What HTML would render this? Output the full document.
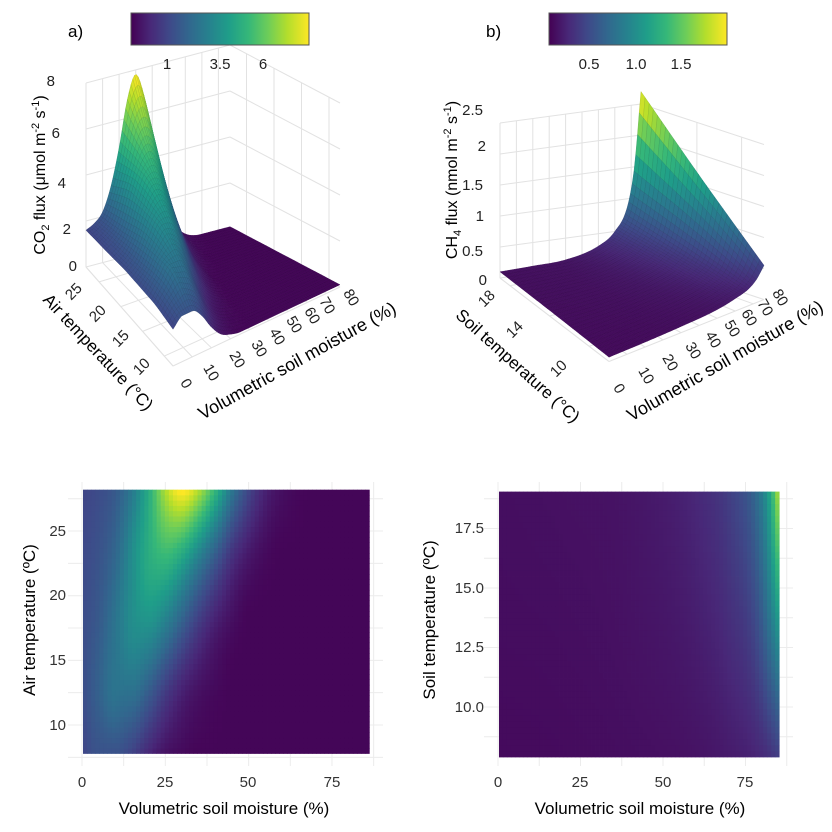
<!DOCTYPE html>
<html><head><meta charset="utf-8">
<style>
html,body{margin:0;padding:0;background:#fff;}
svg{display:block;font-family:"Liberation Sans",sans-serif;}
</style></head>
<body>
<svg id="fig" width="832" height="832" viewBox="0 0 832 832" xmlns="http://www.w3.org/2000/svg">
<defs>
<linearGradient id="vir" x1="0" x2="1" y1="0" y2="0">
<stop offset="0" stop-color="#440154"/><stop offset="0.11" stop-color="#482878"/><stop offset="0.22" stop-color="#3e4a89"/><stop offset="0.33" stop-color="#31688e"/><stop offset="0.44" stop-color="#26828e"/><stop offset="0.55" stop-color="#1f9e89"/><stop offset="0.66" stop-color="#35b779"/><stop offset="0.77" stop-color="#6dcd59"/><stop offset="0.88" stop-color="#b4de2c"/><stop offset="1" stop-color="#fde725"/>
</linearGradient>
</defs>
<g id="g3dA"></g>
<g id="g3dB"></g>
<g id="ghA"></g>
<g id="ghB"></g>

<text x="68" y="37" font-size="17">a)</text>
<rect x="131" y="13" width="178" height="32" fill="url(#vir)" stroke="#555" stroke-width="1"/>
<g font-size="15" fill="#222" text-anchor="middle">
<text x="167" y="69">1</text><text x="220" y="69">3.5</text><text x="263" y="69">6</text></g>

<text x="486" y="37" font-size="17">b)</text>
<rect x="549" y="13" width="178" height="32" fill="url(#vir)" stroke="#555" stroke-width="1"/>
<g font-size="15" fill="#222" text-anchor="middle">
<text x="589" y="69">0.5</text><text x="636" y="69">1.0</text><text x="681" y="69">1.5</text></g>

<g font-size="15" fill="#222" text-anchor="end">
<text x="55" y="86">8</text><text x="60" y="138">6</text><text x="66" y="188">4</text><text x="71" y="234">2</text><text x="77" y="271">0</text></g>
<text transform="translate(45,175) rotate(-90)" font-size="16" text-anchor="middle">CO<tspan font-size="11" dy="4">2</tspan><tspan dy="-4"> flux (μmol m</tspan><tspan font-size="11" dy="-6">-2</tspan><tspan dy="6"> s</tspan><tspan font-size="11" dy="-6">-1</tspan><tspan dy="6">)</tspan></text>
<g font-size="15" fill="#222" text-anchor="middle">
<text transform="translate(77,295) rotate(-45)">25</text><text transform="translate(101,317) rotate(-45)">20</text><text transform="translate(124,342) rotate(-45)">15</text><text transform="translate(145,370) rotate(-45)">10</text></g>
<text transform="translate(94,356) rotate(47)" font-size="17" text-anchor="middle">Air temperature (°C)</text>
<g font-size="15" fill="#222" text-anchor="middle">
<text transform="translate(182,386) rotate(60)">0</text><text transform="translate(207,375) rotate(60)">10</text><text transform="translate(233,362) rotate(60)">20</text><text transform="translate(255,351) rotate(60)">30</text><text transform="translate(273,339) rotate(60)">40</text><text transform="translate(290,327) rotate(60)">50</text><text transform="translate(308,318) rotate(60)">60</text><text transform="translate(323,308) rotate(60)">70</text><text transform="translate(347,300) rotate(60)">80</text></g>
<text transform="translate(300,366) rotate(-29)" font-size="18" text-anchor="middle">Volumetric soil moisture (%)</text>

<g font-size="15" fill="#222" text-anchor="end">
<text x="483" y="115">2.5</text><text x="486" y="151">2</text><text x="483" y="190">1.5</text><text x="484" y="221">1</text><text x="483" y="256">0.5</text><text x="487" y="285">0</text></g>
<text transform="translate(457,180) rotate(-90)" font-size="16" text-anchor="middle">CH<tspan font-size="11" dy="4">4</tspan><tspan dy="-4"> flux (nmol m</tspan><tspan font-size="11" dy="-6">-2</tspan><tspan dy="6"> s</tspan><tspan font-size="11" dy="-6">-1</tspan><tspan dy="6">)</tspan></text>
<g font-size="15" fill="#222" text-anchor="middle">
<text transform="translate(490,302) rotate(-45)">18</text><text transform="translate(518,333) rotate(-45)">14</text><text transform="translate(562,372) rotate(-45)">10</text></g>
<text transform="translate(514,370) rotate(42)" font-size="17" text-anchor="middle">Soil temperature (°C)</text>
<g font-size="15" fill="#222" text-anchor="middle">
<text transform="translate(615,391) rotate(60)">0</text><text transform="translate(642,378) rotate(60)">10</text><text transform="translate(666,365) rotate(60)">20</text><text transform="translate(689,353) rotate(60)">30</text><text transform="translate(709,342) rotate(60)">40</text><text transform="translate(728,331) rotate(60)">50</text><text transform="translate(745,320) rotate(60)">60</text><text transform="translate(761,310) rotate(60)">70</text><text transform="translate(776,300) rotate(60)">80</text></g>
<text transform="translate(728,366) rotate(-30)" font-size="18" text-anchor="middle">Volumetric soil moisture (%)</text>

<g font-size="15" fill="#333" text-anchor="end">
<text x="66" y="536">25</text><text x="66" y="600">20</text><text x="66" y="665">15</text><text x="66" y="730">10</text></g>
<g font-size="15" fill="#333" text-anchor="middle">
<text x="82" y="787">0</text><text x="165" y="787">25</text><text x="248" y="787">50</text><text x="332" y="787">75</text></g>
<text x="224" y="814" font-size="17" text-anchor="middle">Volumetric soil moisture (%)</text>
<text transform="translate(35,620) rotate(-90)" font-size="17" text-anchor="middle">Air temperature (ºC)</text>

<g font-size="15" fill="#333" text-anchor="end">
<text x="484" y="533">17.5</text><text x="484" y="593">15.0</text><text x="484" y="652">12.5</text><text x="484" y="712">10.0</text></g>
<g font-size="15" fill="#333" text-anchor="middle">
<text x="498" y="787">0</text><text x="580" y="787">25</text><text x="663" y="787">50</text><text x="745" y="787">75</text></g>
<text x="640" y="814" font-size="17" text-anchor="middle">Volumetric soil moisture (%)</text>
<text transform="translate(435,620) rotate(-90)" font-size="17" text-anchor="middle">Soil temperature (ºC)</text>
</svg>
<script>
// CO2 data grid (rows = temperature ascending, cols = moisture)
const co2Moist=[0,5,10,15,20,25,30,35,40,45,50,55,60,70,87];
const co2Temp=[8,13,18,23,28];
const co2Flux=[
 [1.6,2.0,2.0,1.6,0.9,0.4,0.2,0.1,0.1,0.1,0.1,0.1,0.1,0.1,0.1],
 [1.8,2.4,3.0,3.0,2.4,1.5,0.8,0.4,0.2,0.1,0.1,0.1,0.1,0.1,0.1],
 [1.8,2.2,3.0,3.8,4.0,3.4,2.4,1.4,0.7,0.3,0.1,0.1,0.1,0.1,0.1],
 [1.7,2.0,2.6,3.8,4.8,5.2,4.6,3.4,2.2,1.1,0.5,0.2,0.1,0.1,0.1],
 [1.6,1.8,2.2,3.2,4.8,6.8,7.8,6.8,5.0,3.0,1.6,0.7,0.3,0.1,0.1]
];
// CH4 data grid
const ch4Moist=[0,20,40,60,70,78,82,86];
const ch4Temp=[8,13.5,19];
const ch4Flux=[
 [0.07,0.08,0.10,0.14,0.20,0.28,0.38,0.55],
 [0.09,0.10,0.13,0.22,0.35,0.60,1.00,1.60],
 [0.10,0.12,0.15,0.30,0.50,0.90,1.50,2.70]
];
const VIR=[[68,1,84],[72,40,120],[62,74,137],[49,104,142],[38,130,142],[31,158,137],[53,183,121],[109,205,89],[180,222,44],[253,231,37]];
const NS='http://www.w3.org/2000/svg';
function vcol(f,dark){f=Math.max(0,Math.min(1,f));const p=f*(VIR.length-1),i=Math.min(VIR.length-2,Math.floor(p)),r=p-i;
 const c=VIR[i].map((v,k)=>Math.round((v+(VIR[i+1][k]-v)*r)*(dark||1)));return `rgb(${c[0]},${c[1]},${c[2]})`;}
function seg(arr,v){let i=0;while(i<arr.length-2&&v>arr[i+1])i++;let r=(v-arr[i])/(arr[i+1]-arr[i]);return [i,Math.max(0,Math.min(1,r))];}
// monotone cubic (Fritsch-Carlson) interpolation along one row
function mono(xs,ys,x){
 const n=xs.length,d=[],m=[];
 for(let k=0;k<n-1;k++)d.push((ys[k+1]-ys[k])/(xs[k+1]-xs[k]));
 m[0]=d[0];m[n-1]=d[n-2];
 for(let k=1;k<n-1;k++)m[k]=(d[k-1]*d[k]<=0)?0:(d[k-1]+d[k])/2;
 for(let k=0;k<n-1;k++){if(d[k]===0){m[k]=0;m[k+1]=0;continue;}const a=m[k]/d[k],b=m[k+1]/d[k],s=a*a+b*b;if(s>9){const t=3/Math.sqrt(s);m[k]=t*a*d[k];m[k+1]=t*b*d[k];}}
 const [i,r]=seg(xs,x);const h=xs[i+1]-xs[i];
 const h00=2*r*r*r-3*r*r+1,h10=r*r*r-2*r*r+r,h01=-2*r*r*r+3*r*r,h11=r*r*r-r*r;
 return h00*ys[i]+h10*h*m[i]+h01*ys[i+1]+h11*h*m[i+1];
}
function bil(ms,ts,vals,m,t){
 const col=vals.map(row=>mono(ms,row,m));
 return Math.max(0,mono(ts,col,t));}
function maxOf(v){return Math.max(...v.map(r=>Math.max(...r)));}

function heatmap(gid,ms,ts,vals,xS,yS,m0,m1,t0,t1,nx,ny,grid){
 const g=document.getElementById(gid);const mx=maxOf(vals);let h='';
 grid.xs.forEach(v=>{h+=`<line x1="${xS(v)}" x2="${xS(v)}" y1="${grid.y0}" y2="${grid.y1}" stroke="#ececec" stroke-width="1"/>`;});
 grid.ys.forEach(v=>{h+=`<line x1="${grid.x0}" x2="${grid.x1}" y1="${yS(v)}" y2="${yS(v)}" stroke="#ececec" stroke-width="1"/>`;});
 g.innerHTML=h;
 const dm=(m1-m0)/nx,dt=(t1-t0)/ny;
 for(let i=0;i<nx;i++)for(let j=0;j<ny;j++){
  const m=m0+(i+0.5)*dm,t=t0+(j+0.5)*dt;const v=bil(ms,ts,vals,m,t);
  const r=document.createElementNS(NS,'rect');
  const x=xS(m0+i*dm),y=yS(t0+(j+1)*dt);
  r.setAttribute('x',x.toFixed(2));r.setAttribute('y',y.toFixed(2));
  r.setAttribute('width',(xS(m0+(i+1)*dm)-x+0.4).toFixed(2));r.setAttribute('height',(yS(t0+j*dt)-y+0.4).toFixed(2));
  r.setAttribute('fill',vcol(v/mx));
  
  
  g.appendChild(r);
 }
}
heatmap('ghA',co2Moist,co2Temp,co2Flux,m=>82+m*3.333,t=>725-(t-10)*12.93,0.3,86.2,7.8,28.2,70,50,
 {xs:[0,12.5,25,37.5,50,62.5,75,87.5],ys:[7.5,10,12.5,15,17.5,20,22.5,25,27.5],x0:68,x1:383,y0:482,y1:766});
heatmap('ghB',ch4Moist,ch4Temp,ch4Flux,m=>498+m*3.3,t=>707-(t-10)*23.8,0.3,85.2,7.9,19.05,70,44,
 {xs:[0,12.5,25,37.5,50,62.5,75,87.5],ys:[8.75,10,11.25,12.5,13.75,15,16.25,17.5,18.75],x0:484,x1:793,y0:482,y1:766});

function surface(gid,ms,ts,vals,F,Cz,m0,m1,t0,t1,zTicks,mTicks,tTicks,nx,ny){
 const g=document.getElementById(gid);const mx=maxOf(vals);
 const pr=(m,t,z)=>{const a=(m-m0)/(m1-m0),b=(t-t0)/(t1-t0);
  const x=F.p00[0]*(1-a)*(1-b)+F.p10[0]*a*(1-b)+F.p01[0]*(1-a)*b+F.p11[0]*a*b;
  const y=F.p00[1]*(1-a)*(1-b)+F.p10[1]*a*(1-b)+F.p01[1]*(1-a)*b+F.p11[1]*a*b;
  return [x,y-z*Cz];};
 let h='';const L=(a,b)=>{h+=`<line x1="${a[0].toFixed(1)}" y1="${a[1].toFixed(1)}" x2="${b[0].toFixed(1)}" y2="${b[1].toFixed(1)}" stroke="#e2e2e2" stroke-width="1"/>`;};
 const zt=zTicks[zTicks.length-1];
 zTicks.forEach(z=>{L(pr(m0,t1,z),pr(m1,t1,z));L(pr(m1,t0,z),pr(m1,t1,z));});
 mTicks.forEach(m=>{L(pr(m,t1,0),pr(m,t1,zt));L(pr(m,t0,0),pr(m,t1,0));});
 tTicks.forEach(t=>{L(pr(m1,t,0),pr(m1,t,zt));L(pr(m0,t,0),pr(m1,t,0));});
 L(pr(m0,t1,0),pr(m0,t1,zt));L(pr(m0,t0,0),pr(m0,t1,0));L(pr(m0,t0,0),pr(m1,t0,0));
 g.innerHTML=h;
 const cells=[];const dm=(m1-m0)/nx,dt=(t1-t0)/ny;
 const Z=[];for(let i=0;i<=nx;i++){Z.push([]);for(let j=0;j<=ny;j++)Z[i].push(bil(ms,ts,vals,m0+i*dm,t0+j*dt));}
 for(let i=0;i<nx;i++)for(let j=0;j<ny;j++){
  const c=[[i,j],[i+1,j],[i+1,j+1],[i,j+1]];
  const zs=c.map(p=>Z[p[0]][p[1]]);
  const pts=c.map((p,k)=>pr(m0+p[0]*dm,t0+p[1]*dt,zs[k]));
  const depth=pr(m0+(i+0.5)*dm,t0+(j+0.5)*dt,0)[1];
  cells.push({pts,z:zs.reduce((a,b)=>a+b)/4,depth});
 }
 cells.sort((a,b)=>a.depth-b.depth);
 cells.forEach(c=>{
  const p=document.createElementNS(NS,'polygon');
  p.setAttribute('points',c.pts.map(q=>q[0].toFixed(1)+','+q[1].toFixed(1)).join(' '));
  p.setAttribute('fill',vcol(c.z/mx));
  p.setAttribute('stroke',vcol(c.z/mx,0.85));
  p.setAttribute('stroke-width','0.4');
  
  
  g.appendChild(p);
 });
}
surface('g3dA',co2Moist,co2Temp,co2Flux,{p00:[173,366],p10:[340,287],p01:[86,267],p11:[230,229]},23,0,87,8,28,
 [0,2,4,6,8],[0,10,20,30,40,50,60,70,80],[10,15,20,25],80,36);
surface('g3dB',ch4Moist,ch4Temp,ch4Flux,{p00:[609,361.5],p10:[764,299.5],p01:[500,278],p11:[641,259]},62,0,86,8,19,
 [0,0.5,1,1.5,2,2.5],[0,10,20,30,40,50,60,70,80],[10,14,18],80,30);
</script>
</body></html>
